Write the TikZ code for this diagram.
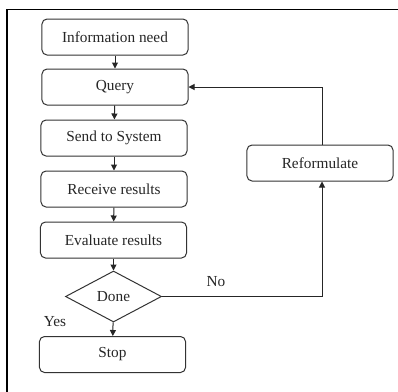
\documentclass[tikz,border=0pt]{standalone}
\usepackage{fontspec}
\setmainfont{Liberation Serif}
\usetikzlibrary{shapes.geometric,arrows.meta}
\begin{document}
\begin{tikzpicture}[x=1bp,y=-1bp,
  box/.style={draw=black!80,line width=1bp,rounded corners=5bp,minimum width=146bp,minimum height=36bp,inner sep=0pt,text=black!85,font=\fontsize{15.3bp}{17bp}\selectfont},
  dia/.style={draw=black!80,line width=1bp,diamond,aspect=1.88,minimum width=96bp,minimum height=51bp,inner sep=0pt,text=black!85,font=\fontsize{15.3bp}{17bp}\selectfont},
  lbl/.style={text=black!85,font=\fontsize{15.3bp}{17bp}\selectfont,inner sep=0pt},
  conn/.style={draw=black!85,line width=1bp,-{Triangle[length=6bp,width=6bp]}}]
\useasboundingbox (0,0) rectangle (398,392);
\fill[white] (0,0) rectangle (398,392);
\draw[line width=1.3bp] (7,392) -- (7,9.5) -- (398,9.5);
\node[box] (info) at (115,37) {Information need};
\node[box] (query) at (115,87) {Query};
\node[box] (send) at (114,138) {Send to System};
\node[box] (recv) at (114,189) {Receive results};
\node[box] (eval) at (113.5,240) {Evaluate results};
\node[dia] (done) at (113.5,296.5) {Done};
\node[box] (stop) at (112.5,354.5) {Stop};
\node[box] (ref) at (320,163) {Reformulate};
\coordinate (c1) at (322,87);
\coordinate (c2) at (322,296.5);
\node[lbl] (no) at (216,282) {No};
\node[lbl] (yes) at (55,322) {Yes};
\draw[conn] (info) -- (query);
\draw[conn] (query) -- (send);
\draw[conn] (send) -- (recv);
\draw[conn] (recv) -- (eval);
\draw[conn] (eval) -- (done);
\draw[conn] (done) -- (stop);
\draw[conn] (done.east) -- (c2) -- (c2 |- ref.south);
\draw[conn] (c1 |- ref.north) -- (c1) -- (query.east);
\end{tikzpicture}
\end{document}
